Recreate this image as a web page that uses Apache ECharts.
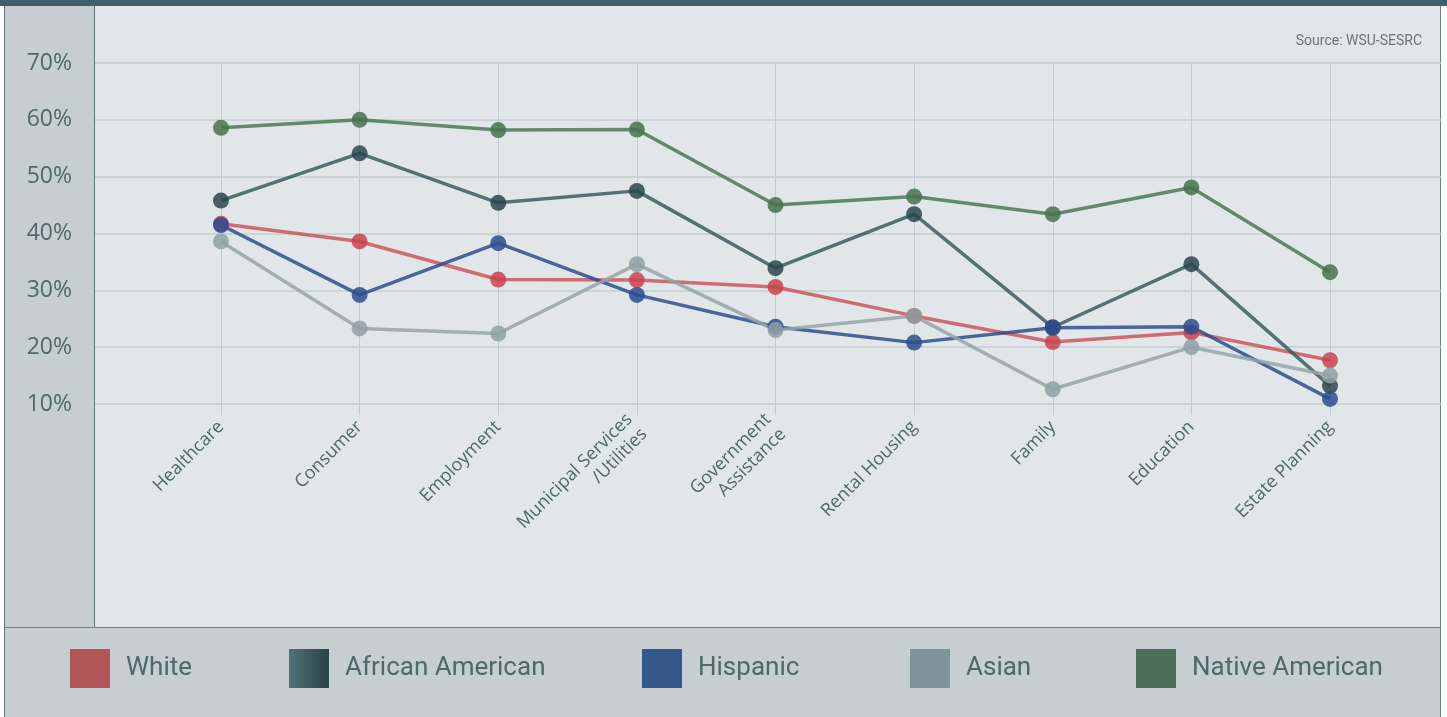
<!DOCTYPE html>
<html>
<head>
<meta charset="utf-8">
<script src="https://cdn.jsdelivr.net/npm/echarts@6/dist/echarts.min.js"></script>
<style>
  body { margin: 0; background: #fff; }
  #wrap { position: relative; width: 1447px; height: 717px; overflow: hidden; }
  .pane { position: absolute; box-sizing: border-box; }
  #chart { position: absolute; left: 0; top: 0; width: 1447px; height: 717px; }
</style>
</head>
<body>
<div id="wrap">
  <div class="pane" style="left:0;top:0;width:1447px;height:6px;background:#3f5f6c"></div>
  <div class="pane" style="left:95px;top:6px;width:1346px;height:621px;background:#e1e7e9;border-right:1px solid #6a8084"></div>
  <div class="pane" style="left:4px;top:6px;width:91px;height:621px;background:#c6ced1;border-left:1px solid #5e7579;border-right:1px solid #5e7579"></div>
  <div class="pane" style="left:4px;top:627px;width:1437px;height:90px;background:#c6ced1;border-top:1px solid #6a8084;border-left:1px solid #5e7579;border-right:1px solid #6a8084"></div>
  <div id="chart"></div>
</div>
<script>
let categories = ['Healthcare', 'Consumer', 'Employment', 'Municipal Services\n/Utilities', 'Government\nAssistance', 'Rental Housing', 'Family', 'Education', 'Estate Planning']
let yTicks = [10, 20, 30, 40, 50, 60, 70]

let white = [41.7, 38.6, 31.9, 31.8, 30.6, 25.5, 20.9, 22.6, 17.7]
let africanAmerican = [45.8, 54.1, 45.4, 47.5, 33.9, 43.4, 23.5, 34.6, 13.2]
let hispanic = [41.5, 29.2, 38.3, 29.2, 23.6, 20.8, 23.4, 23.6, 10.9]
let asian = [38.6, 23.3, 22.4, 34.6, 23.0, 25.5, 12.6, 20.0, 15.0]
let nativeAmerican = [58.6, 60.0, 58.2, 58.3, 45.0, 46.5, 43.4, 48.1, 33.2]

let seriesNames = ['White', 'African American', 'Hispanic', 'Asian', 'Native American']
let seriesData = [white, africanAmerican, hispanic, asian, nativeAmerican]
let markerColors = ['#c9434d', '#2a454c', '#2c4e8f', '#8fa0a4', '#47724f']
let lineColors = ['#cc555e', '#3d5a60', '#2f4e8e', '#95a5a8', '#4d7757']
let legendColors = ['#b05558', null, '#36578a', '#7f9399', '#4a7059']
let legendLefts = [70, 289, 642, 910, 1136]

let gridColor = '#c3cccf'
let textColor = '#4e686c'

let chart = echarts.init(document.getElementById('chart'))

let legends = seriesNames.map(function (name, i) {
  let color = legendColors[i]
  if (color === null) {
    color = new echarts.graphic.LinearGradient(0, 0, 1, 0, [
      { offset: 0, color: '#50707a' },
      { offset: 1, color: '#2b4246' }
    ])
  }
  return {
    left: legendLefts[i],
    top: 649,
    padding: 0,
    icon: 'rect',
    itemWidth: 40,
    itemHeight: 39,
    selectedMode: false,
    textStyle: {
      fontFamily: 'Roboto',
      fontSize: 26,
      color: textColor,
      padding: [0, 0, 0, 11]
    },
    data: [{ name: name, itemStyle: { color: color, opacity: 1 } }]
  }
})

let series = seriesNames.map(function (name, i) {
  return {
    name: name,
    type: 'line',
    xAxisIndex: 1,
    yAxisIndex: 1,
    data: seriesData[i],
    symbol: 'circle',
    symbolSize: 16,
    clip: false,
    color: markerColors[i],
    itemStyle: { color: markerColors[i], opacity: 0.85 },
    lineStyle: { color: lineColors[i], width: 3.5, opacity: 0.85 },
    emphasis: { disabled: true }
  }
})

chart.setOption({
  animation: false,
  title: {
    text: 'Source: WSU-SESRC',
    right: 20,
    top: 29,
    textStyle: {
      fontFamily: 'Roboto',
      fontSize: 14,
      fontWeight: 'normal',
      color: '#6b7577'
    }
  },
  legend: legends,
  grid: [
    { left: 95, right: 6, top: 63, height: 341 },
    { left: 221, right: 117, top: 63, height: 341 }
  ],
  xAxis: [
    { gridIndex: 0, type: 'value', show: false },
    {
      gridIndex: 1,
      type: 'category',
      data: categories,
      boundaryGap: false,
      axisLine: { show: false },
      axisTick: { show: true, length: 11, lineStyle: { color: gridColor } },
      splitLine: { show: true, lineStyle: { color: gridColor } },
      axisLabel: {
        rotate: 45,
        margin: 20,
        fontFamily: 'Open Sans',
        fontSize: 18,
        color: textColor,
        lineHeight: 21,
        interval: 0
      }
    }
  ],
  yAxis: [
    {
      gridIndex: 0,
      type: 'value',
      min: yTicks[0],
      max: yTicks[yTicks.length - 1],
      interval: 10,
      axisLine: { show: false },
      axisTick: { show: false },
      splitLine: { lineStyle: { color: gridColor, width: 1.5 } },
      axisLabel: {
        margin: 23,
        fontFamily: 'Open Sans',
        fontSize: 23,
        color: textColor,
        formatter: '{value}%'
      }
    },
    {
      gridIndex: 1,
      type: 'value',
      min: yTicks[0],
      max: yTicks[yTicks.length - 1],
      show: false
    }
  ],
  series: series
})
</script>
</body>
</html>
